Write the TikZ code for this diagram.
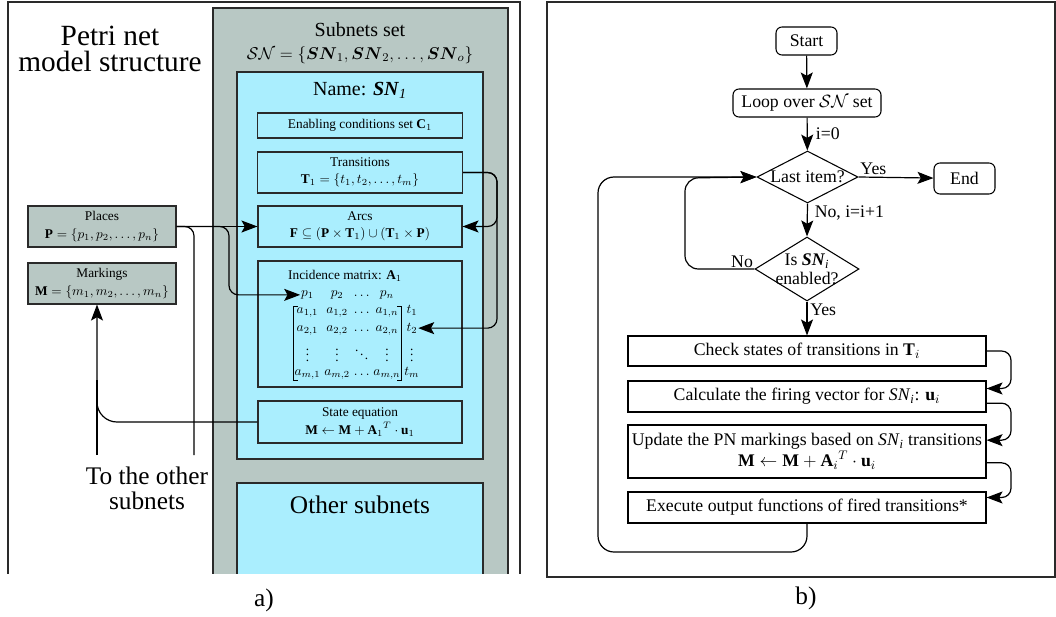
\RequirePackage{fix-cm}
\documentclass[tikz,border=0pt]{standalone}
\usepackage{amsmath,amssymb}
\usepackage{fontspec}
\setmainfont{Liberation Serif}
\usetikzlibrary{arrows.meta,positioning,shapes.geometric,calc,matrix}
\definecolor{sngray}{HTML}{B8C8C4}
\definecolor{sncyan}{HTML}{AAEEFE}
\definecolor{edge}{HTML}{2A2A2A}
\tikzset{
  panel/.style={draw=edge,line width=0.8pt},
  setbox/.style={draw=edge,line width=1pt},
  gbox/.style={draw=edge,line width=0.8pt,fill=sngray,align=center,inner sep=1pt,font=\fontsize{10}{13}\selectfont},
  cbox/.style={gbox,fill=sncyan},
  fbox/.style={draw=black,line width=0.8pt,fill=white,align=center,inner sep=1pt,font=\fontsize{13.3}{14}\selectfont},
  rbox/.style={fbox,rounded corners=4.5pt},
  dia/.style={fbox,diamond,aspect=2,inner sep=0pt},
  ln/.style={line width=0.9pt,draw=black},
  ar/.style={ln,-{Stealth[length=12pt,width=9pt,inset=2.5pt]}},
  lbl/.style={font=\fontsize{13.3}{14}\selectfont,inner sep=1pt},
  big/.style={font=\fontsize{19}{18.5}\selectfont,align=center},
  mid/.style={font=\fontsize{15}{17}\selectfont,align=center},
  small/.style={font=\fontsize{10}{12}\selectfont},
}

\begin{document}
\begin{tikzpicture}[x=0.75pt,y=-0.75pt]
  \useasboundingbox (0,0) rectangle (1056,617);

  % a) Petri net model structure
  \begin{scope}
    \clip (0,0) rectangle (530,573);
    \draw[panel] (8,2) rectangle (520,640);
    \filldraw[setbox,fill=sngray] (213,8) rectangle (508,640);
    \filldraw[setbox,fill=sncyan,line width=0.8pt] (237,72) rectangle (483,459);
    \filldraw[setbox,fill=sncyan,line width=0.8pt] (237,483) rectangle (483,640);
  \end{scope}
  \node[big,font=\fontsize{22}{19.5}\selectfont] (title) at (110,49) {Petri net\\model structure};
  \node[mid] (subsets) at (360,43) {Subnets set\\{\fontsize{12.8}{15}\selectfont$\mathcal{SN}=\{\boldsymbol{SN}_1,\boldsymbol{SN}_2,\dots,\boldsymbol{SN}_o\}$}};
  \node[mid] (name) at (360,90) {Name: \textbf{\textit{SN}}\textsubscript{\textit{1}}};
  \node[big] (other) at (360,505) {Other subnets};
  \node[big] (toother) at (147,488) {To the other\\subnets};

  \node[cbox,minimum width=153.75pt,minimum height=18.75pt] (cond) at (360,125.5) {Enabling conditions set $\mathbf{C}_1$};
  \node[cbox,minimum width=153.75pt,minimum height=30.75pt] (trans) at (360,172.5) {Transitions\\$\mathbf{T}_1=\{t_1,t_2,\dots,t_m\}$};
  \node[cbox,minimum width=153pt,minimum height=30.75pt] (arcs) at (360,226.5) {Arcs\\$\mathbf{F}\subseteq(\mathbf{P}\times\mathbf{T}_1)\cup(\mathbf{T}_1\times\mathbf{P})$};
  \node[cbox,minimum width=153pt,minimum height=94.5pt] (inc) at (360,324) {};
  \node[small] (inctitle) at (345,276) {Incidence matrix: $\mathbf{A}_1$};
  \matrix (am) [matrix of math nodes,nodes={inner sep=0.5pt,font=\fontsize{10}{12}\selectfont},column sep=2pt,row sep=3.5pt] at (357,335) {
    p_1 & p_2 & \dots & p_n & \\
    a_{1,1} & a_{1,2} & \dots & a_{1,n} &[5pt] t_1 \\
    a_{2,1} & a_{2,2} & \dots & a_{2,n} & t_2 \\
    \vdots & \vdots & \ddots & \vdots & \vdots \\
    a_{m,1} & a_{m,2} & \dots & a_{m,n} & t_m \\
  };
  \draw[line width=0.6pt] ($(am-5-1.west |- am-2-1.north)+(3pt,0)$) -- (am-5-1.west |- am-2-1.north) -- (am-5-1.south west) -- ++(3pt,0);
  \draw[line width=0.6pt] ($(am-5-4.east |- am-2-4.north)+(-3pt,0)$) -- (am-5-4.east |- am-2-4.north) -- (am-5-4.south east) -- ++(-3pt,0);
  \node[cbox,minimum width=153pt,minimum height=31.5pt] (steq) at (360,422) {State equation\\$\mathbf{M}\leftarrow\mathbf{M}+{\mathbf{A}_1}^T\cdot\mathbf{u}_1$};

  \node[gbox,minimum width=111pt,minimum height=30.75pt] (places) at (102,226.5) {Places\\$\mathbf{P}=\{p_1,p_2,\dots,p_n\}$};
  \node[gbox,minimum width=111pt,minimum height=30.75pt] (mark) at (102,283.5) {Markings\\$\mathbf{M}=\{m_1,m_2,\dots,m_n\}$};

  \coordinate (xa) at (194,455);
  \coordinate (xb) at (229,0);
  \coordinate (xt) at (497,0);
  \coordinate (xm) at (97,455);
  \coordinate (xmtop) at (97,380);
  \draw[ar] (places.east) -- (arcs.west);
  \draw[ln,rounded corners=7pt] (places.east) -| (xa);
  \draw[ar,rounded corners=7pt] (places.east) -| (xb |- am-1-1.west) -- (am-1-1.west);
  \draw[ar,rounded corners=7pt] (trans.east) -| (xt |- arcs.east) -- (arcs.east);
  \draw[ar,rounded corners=7pt] (trans.east) -| (xt |- am-3-5.east) -- (am-3-5.east);
  \draw[ar,rounded corners=15pt] (steq.west) -| (xm |- mark.south);
  \draw[ln] (xm) -- (xmtop);

  \node[big] (la) at (264,600) {a)};

  % b) execution loop
  \draw[panel] (547,2) rectangle (1055,577);
  \node[rbox,minimum width=45.75pt,minimum height=21pt] (start) at (806.5,41) {Start};
  \node[rbox,minimum width=111pt,minimum height=21pt] (loop) at (807,103) {Loop over $\mathcal{SN}$ set};
  \node[dia,minimum width=75.75pt,minimum height=39pt] (d1) at (807.5,177) {Last item?};
  \node[rbox,minimum width=45.75pt,minimum height=23.25pt] (end) at (964.5,178.5) {End};
  \node[dia,aspect=1.6,inner sep=-2pt,minimum width=78pt,minimum height=48pt] (d2) at (807,269) {Is \textbf{\textit{SN}}\textsubscript{\textit{i}}\\enabled?};
  \node[fbox,minimum width=268.5pt,minimum height=22.5pt] (check) at (807,351) {Check states of transitions in $\mathbf{T}_i$};
  \node[fbox,minimum width=268.5pt,minimum height=23.25pt] (calc) at (807,396.5) {Calculate the firing vector for \textit{SN}\textsubscript{\textit{i}}: $\mathbf{u}_i$};
  \node[fbox,minimum width=268.5pt,minimum height=39.75pt] (upd) at (807,451.5) {Update the PN markings based on \textit{SN}\textsubscript{\textit{i}} transitions\\$\mathbf{M}\leftarrow\mathbf{M}+{\mathbf{A}_i}^T\cdot\mathbf{u}_i$};
  \node[fbox,minimum width=268.5pt,minimum height=23.25pt] (exec) at (807,507.5) {Execute output functions of fired transitions*};

  \draw[ar] (start) -- (loop);
  \draw[ar] (loop) -- node[lbl,right=5pt]{i=0} (d1);
  \draw[ar] (d1.east) -- node[lbl,pos=0,anchor=south west]{Yes} (end);
  \draw[ar] (d1.south) -- node[lbl,pos=0,anchor=north west,xshift=4pt]{No, i=i+1} (d2.north);
  \draw[ar] (d2.south) -- node[lbl,pos=0,anchor=north west,xshift=1pt]{Yes} (check);

  \coordinate (il) at (685,178);
  \coordinate (ol) at (598,552);
  \coordinate (rx) at (1011,0);
  \draw[ar,rounded corners=10pt] (d2.west) -| (il) -- (d1.west);
  \node[lbl,anchor=south east] (no) at (d2.west) {No};
  \draw[ar,rounded corners=12pt] (exec.south) |- (ol) |- (d1.west);

  \coordinate (cin) at ([yshift=6pt]calc.east);
  \coordinate (cout) at ([yshift=-5pt]calc.east);
  \coordinate (uin) at ([yshift=8.5pt]upd.east);
  \coordinate (uout) at ([yshift=-8.5pt]upd.east);
  \coordinate (ein) at ([yshift=7.5pt]exec.east);
  \draw[ar,rounded corners=7pt] (check.east) -| (rx |- cin) -- (cin);
  \draw[ar,rounded corners=7pt] (cout) -| (rx |- uin) -- (uin);
  \draw[ar,rounded corners=7pt] (uout) -| (rx |- ein) -- (ein);

  \node[big] (lb) at (806,598) {b)};
\end{tikzpicture}
\end{document}
